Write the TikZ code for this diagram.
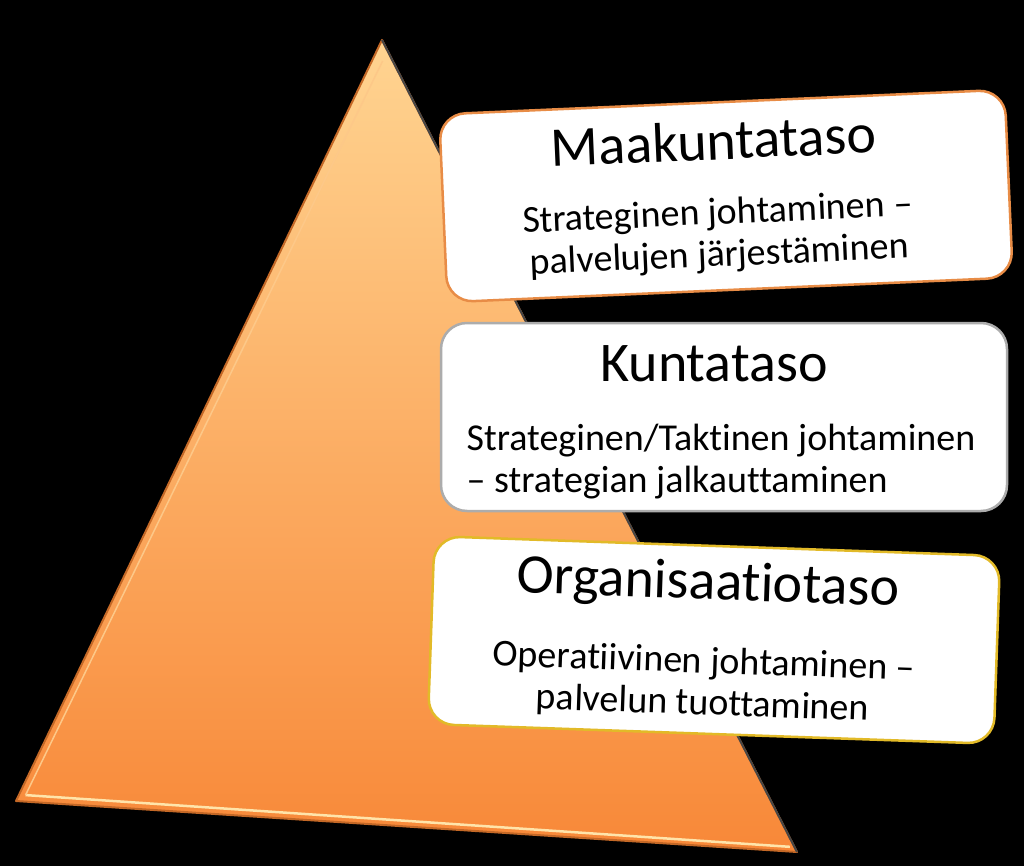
\documentclass[tikz,border=0pt]{standalone}
\usepackage{fontspec}
\setmainfont{Carlito}[Ligatures={TeX,NoCommon}]
\usepackage{tikz}
\usetikzlibrary{positioning,calc}

\definecolor{peach}{RGB}{255,212,145}
\definecolor{pumpkin}{RGB}{248,136,56}
\definecolor{rimdark}{RGB}{196,104,38}
\definecolor{rimlight}{RGB}{255,228,170}
\definecolor{edgegray}{RGB}{70,70,70}
\definecolor{maakuntarim}{RGB}{232,140,70}
\definecolor{kuntarim}{RGB}{172,172,172}
\definecolor{orgrim}{RGB}{226,186,40}

\begin{document}
\begin{tikzpicture}[x=1pt, y=-1pt,
  levelbox/.style={rectangle, rounded corners=26pt, fill=white, line width=2.5pt, minimum width=566pt, minimum height=188pt},
  titletext/.style={inner sep=0pt, font=\fontsize{56}{60}\selectfont},
  subtext/.style={inner sep=0pt, font=\fontsize{38}{42}\selectfont, align=center},
]

% Background
\useasboundingbox (0,0) rectangle (1024,866);
\fill[black] (0,0) rectangle (1024,866);

% Pyramid
\coordinate (apex) at (382,40);
\coordinate (baseleft) at (16,801);
\coordinate (baseright) at (797,852);
\coordinate (middle) at (398,564);
\shade[top color=peach, bottom color=pumpkin] (apex) -- (baseright) -- (baseleft) -- cycle;
\draw[rimdark, line width=2pt, line join=round] (apex) -- (baseright) -- (baseleft) -- cycle;
\draw[rimlight, line width=2.5pt] ($(baseleft)!0.025!(middle)$) -- ($(baseright)!0.018!(middle)$);
\draw[rimlight!70!pumpkin, line width=1.5pt] ($(baseleft)!0.025!(middle)$) -- ($(apex)!0.04!(middle)$);
\draw[edgegray, line width=2pt] (apex) -- (baseright);

% Maakuntataso
\begin{scope}[shift={(726,196)}, rotate=2.5, transform shape]
  \node[levelbox, draw=maakuntarim] (maakunta) at (0,0) {};
  \node[titletext] (maakuntatitle) at (-10,-56) {Maakuntataso};
  \node[subtext] (maakuntasub) at (-9,39) {Strateginen johtaminen --\\palvelujen järjestäminen};
\end{scope}

% Kuntataso
\begin{scope}[shift={(724,417)}, transform shape]
  \node[levelbox, draw=kuntarim] (kunta) at (0,0) {};
  \node[titletext] (kuntatitle) at (-10,-53) {Kuntataso};
  \node[subtext, align=left] (kuntasub) at (-3,45) {Strateginen/Taktinen johtaminen\\-- strategian jalkauttaminen};
\end{scope}

% Organisaatiotaso
\begin{scope}[shift={(714,640)}, rotate=-2, transform shape]
  \node[levelbox, draw=orgrim] (org) at (0,0) {};
  \node[titletext] (orgtitle) at (-8,-55) {Organisaatiotaso};
  \node[subtext] (orgsub) at (-9,44) {Operatiivinen johtaminen --\\palvelun tuottaminen};
\end{scope}

\end{tikzpicture}
\end{document}
